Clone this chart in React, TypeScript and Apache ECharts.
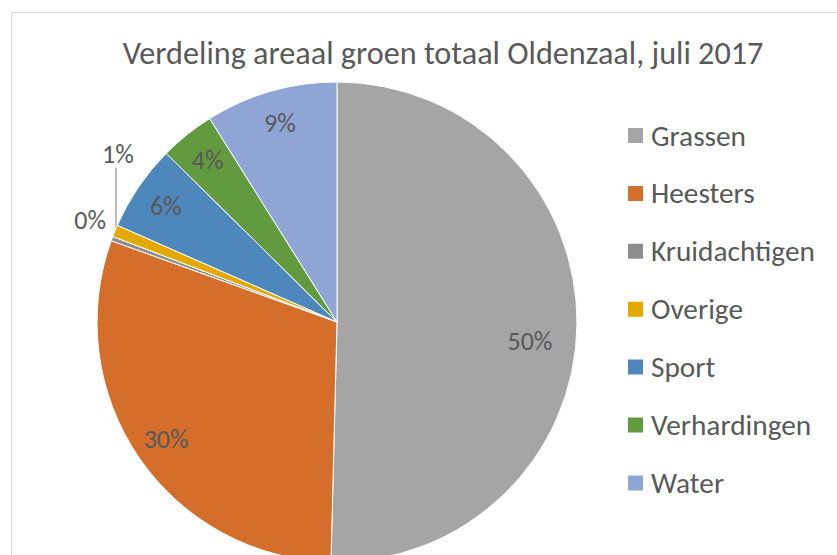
import React, { useEffect, useRef } from "react";
import * as echarts from "echarts";

const titleText = "Verdeling areaal groen totaal Oldenzaal, juli 2017";
const categories = ["Grassen", "Heesters", "Kruidachtigen", "Overige", "Sport", "Verhardingen", "Water"];
const shares = [50.4, 30.1, 0.3, 0.8, 5.8, 3.7, 8.9];
const sliceColors = ["#A5A5A5", "#D46E2A", "#8E8E8E", "#E3A900", "#4E87BC", "#619A3F", "#8FA5D5"];
const outsideLabelIdx = [2, 3];

const FONT = "Calibri, Carlito, 'Open Sans', sans-serif";
const TXT = "#595959";

export default function App() {
  const ref = useRef<HTMLDivElement>(null);
  useEffect(() => {
    document.body.style.margin = "0";
    const chart = echarts.init(ref.current!, undefined, { renderer: "svg" });
    const fmt = (p: any) => Math.round(p.percent) + "%";
    const mainData = categories.map((name, i) => ({
      name,
      value: shares[i],
      itemStyle: { color: sliceColors[i] },
      label: { show: outsideLabelIdx.includes(i) },
      labelLine: { show: i === 3 },
    }));
    const labelData = categories.map((name, i) => ({
      name,
      value: shares[i],
      label: { show: !outsideLabelIdx.includes(i) },
    }));
    chart.setOption({
      animation: false,
      backgroundColor: "#fff",
      textStyle: { fontFamily: FONT },
      title: {
        text: titleText,
        left: 443,
        top: 37,
        padding: 0,
        textAlign: "center",
        textStyle: { fontFamily: FONT, fontSize: 32.2, fontWeight: "normal", color: TXT },
      },
      legend: {
        data: categories,
        orient: "vertical",
        left: 626,
        top: 121,
        padding: 0,
        itemWidth: 17,
        itemHeight: 17,
        itemGap: 28.9,
        icon: "rect",
        selectedMode: false,
        textStyle: { fontFamily: FONT, fontSize: 29.3, color: TXT, padding: [0, 0, 0, 2] },
      },
      graphic: [
        {
          type: "rect",
          shape: { x: 11.5, y: 12.5, width: 900, height: 700 },
          style: { fill: "none", stroke: "#D9D9D9", lineWidth: 1 },
          silent: true,
          z: -10,
        },
      ],
      series: [
        {
          type: "pie",
          center: [337, 322],
          radius: 240,
          startAngle: 90,
          clockwise: true,
          avoidLabelOverlap: false,
          silent: true,
          itemStyle: { borderColor: "#fff", borderWidth: 1 },
          label: {
            position: "outside",
            formatter: fmt,
            fontFamily: FONT,
            fontSize: 26,
            color: TXT,
          },
          labelLine: { length: 0, length2: 0, lineStyle: { color: "#A6A6A6", width: 1.5 } },
          labelLayout: (p: any) => {
            if (p.dataIndex === 3 && p.labelLinePoints) {
              const x1 = p.labelLinePoints[0][0];
              const y1 = p.labelLinePoints[0][1];
              return {
                x: x1 + 3,
                y: y1 - 77,
                align: "center",
                verticalAlign: "middle",
                labelLinePoints: [
                  [x1 + 1, y1 - 3],
                  [x1 + 1, y1 - 63],
                ],
              };
            }
            if (p.dataIndex === 2 && p.labelRect) {
              const r = p.labelRect;
              return {
                x: r.x + r.width - 1,
                y: r.y + r.height / 2 - 19,
                align: "right",
                verticalAlign: "middle",
              };
            }
            return {};
          },
          data: mainData,
        },
        {
          type: "pie",
          center: [337, 322],
          radius: [168, 240],
          startAngle: 90,
          clockwise: true,
          avoidLabelOverlap: false,
          silent: true,
          itemStyle: { color: "rgba(0,0,0,0)", borderWidth: 0 },
          label: {
            position: "inside",
            formatter: fmt,
            fontFamily: FONT,
            fontSize: 26,
            color: TXT,
          },
          labelLine: { show: false },
          labelLayout: (p: any) => {
            if (p.dataIndex === 0 && p.labelRect) {
              const r = p.labelRect;
              return {
                x: r.x + r.width / 2 - 14,
                y: r.y + r.height / 2 + 16,
                align: "center",
                verticalAlign: "middle",
              };
            }
            return {};
          },
          data: labelData,
        },
      ],
    });
    return () => chart.dispose();
  }, []);
  return <div ref={ref} style={{ width: 837, height: 555 }} />;
}
